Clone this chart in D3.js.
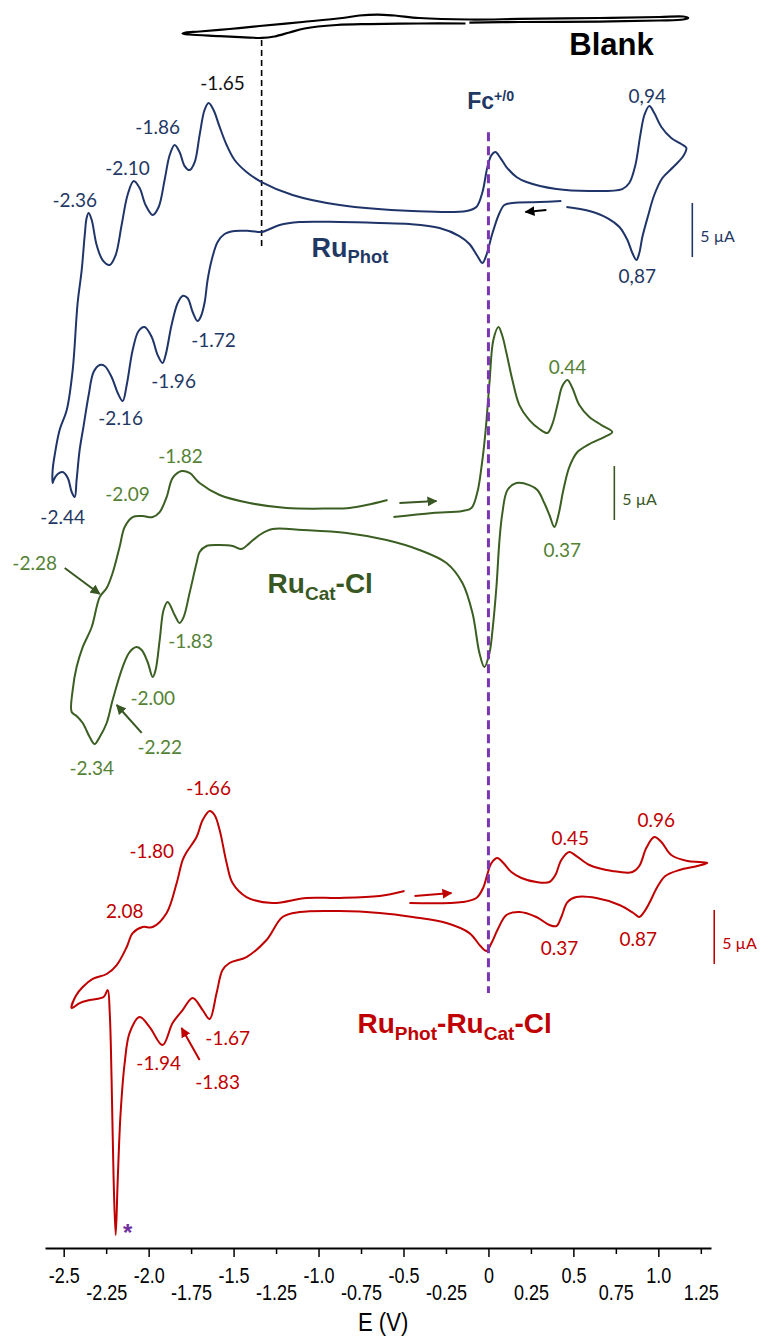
<!DOCTYPE html>
<html>
<head>
<meta charset="utf-8">
<script src="https://cdn.jsdelivr.net/npm/d3@7"></script>
<style>
  body { margin: 0; background: #fff; }
  svg { display: block; }
</style>
</head>
<body>
<svg width="761" height="1336"></svg>
<script>
// potential (V) vs current (uA), each trace drawn with its own vertical offset
const axisTicks = [-2.5, -2.25, -2.0, -1.75, -1.5, -1.25, -1.0, -0.75, -0.5, -0.25, 0, 0.25, 0.5, 0.75, 1.0, 1.25];

const blankOffset = 113.24;
const blankCV = [
  [-0.112, 0.23], [0.182, 0.28], [0.653, 0.32], [1.006, 0.42], [1.147, 0.51], [1.176, 0.65],
  [1.147, 0.79], [1.006, 0.74], [0.653, 0.65], [0.182, 0.56], [-0.112, 0.51], [-0.406, 0.65],
  [-0.553, 0.88], [-0.653, 0.97], [-0.759, 0.88], [-0.859, 0.65], [-1.094, 0.28], [-1.347, -0.09],
  [-1.524, -0.37], [-1.700, -0.60], [-1.782, -0.69], [-1.800, -0.79], [-1.759, -0.88], [-1.582, -1.02],
  [-1.406, -1.16], [-1.335, -1.20], [-1.259, -1.06], [-1.171, -0.69], [-1.082, -0.32], [-0.894, 0],
  [-0.700, 0.09], [-0.406, 0.14], [-0.135, 0.14]
];

const photOffset = 96.11;
const photCV = [
  [0.429, 0.83], [0.300, 0.74], [0.141, 0.65], [0.094, 0.46], [0.065, -0.28], [0.024, -2.13],
  [-0.012, -4.17], [-0.035, -4.91], [-0.065, -4.26], [-0.112, -3.15], [-0.171, -2.41], [-0.288, -1.67],
  [-0.465, -1.30], [-0.641, -1.20], [-0.876, -1.11], [-1.112, -1.11], [-1.229, -1.39], [-1.300, -1.85],
  [-1.335, -2.04], [-1.406, -1.94], [-1.494, -1.94], [-1.553, -2.22], [-1.594, -2.96], [-1.629, -4.63],
  [-1.653, -6.48], [-1.671, -8.61], [-1.694, -9.91], [-1.712, -10.28], [-1.741, -9.44], [-1.771, -8.15],
  [-1.800, -7.96], [-1.829, -8.61], [-1.865, -10.65], [-1.900, -13.43], [-1.918, -14.17], [-1.947, -13.43],
  [-1.982, -11.76], [-2.024, -10.83], [-2.059, -11.20], [-2.094, -12.96], [-2.129, -16.20], [-2.153, -17.69],
  [-2.182, -16.94], [-2.218, -15.46], [-2.259, -14.44], [-2.288, -14.35], [-2.324, -15.00], [-2.353, -17.13],
  [-2.382, -19.91], [-2.406, -22.22], [-2.424, -25.00], [-2.435, -26.57], [-2.453, -26.11], [-2.476, -24.81],
  [-2.506, -24.26], [-2.535, -24.44], [-2.559, -25.00], [-2.565, -25.28],
  [-2.565, -24.07], [-2.553, -22.69], [-2.524, -20.37], [-2.482, -18.52], [-2.447, -14.81], [-2.418, -8.61],
  [-2.394, -5.56], [-2.376, -2.31], [-2.365, -0.74], [-2.353, -0.28], [-2.335, -0.93], [-2.306, -3.24],
  [-2.271, -4.63], [-2.229, -5.09], [-2.194, -4.17], [-2.159, -1.39], [-2.124, 1.39], [-2.088, 2.69],
  [-2.053, 2.04], [-2.018, 0.46], [-1.976, -0.46], [-1.941, 0.28], [-1.906, 2.78], [-1.876, 5.09],
  [-1.847, 6.02], [-1.818, 5.37], [-1.788, 4.07], [-1.759, 3.70], [-1.729, 4.44], [-1.700, 6.94],
  [-1.671, 9.26], [-1.647, 9.91], [-1.618, 9.26], [-1.582, 7.69], [-1.541, 6.02], [-1.494, 4.63],
  [-1.424, 3.52], [-1.335, 2.59], [-1.153, 1.39], [-0.876, 0.46], [-0.447, -0.09], [-0.129, -0.09],
  [-0.071, 0.28], [-0.035, 1.67], [-0.006, 3.98], [0.018, 5.09], [0.041, 5.37], [0.071, 4.81],
  [0.106, 3.98], [0.165, 3.06], [0.224, 2.59], [0.400, 1.94], [0.594, 1.76], [0.788, 1.94],
  [0.829, 2.50], [0.865, 4.17], [0.894, 6.94], [0.918, 8.80], [0.947, 9.63], [0.976, 8.98],
  [1.018, 7.69], [1.076, 6.67], [1.135, 6.11], [1.165, 5.74], [1.147, 5.00], [1.088, 3.98],
  [1.024, 2.96], [0.976, 1.39], [0.941, -0.46], [0.906, -2.50], [0.888, -3.98], [0.871, -4.63],
  [0.847, -3.98], [0.818, -2.78], [0.771, -1.57], [0.700, -0.74], [0.594, -0.09], [0.459, 0.28]
];

const catOffset = 68.33;
const catCV = [
  [-0.559, -0.65], [-0.329, -0.28], [-0.153, -0.09], [-0.100, 0.19], [-0.065, 1.67], [-0.041, 3.98],
  [-0.018, 7.13], [0.006, 11.76], [0.029, 15.74], [0.059, 16.94], [0.082, 16.11], [0.106, 14.54],
  [0.141, 12.04], [0.182, 9.72], [0.241, 8.33], [0.300, 7.50], [0.347, 7.13], [0.376, 7.96],
  [0.406, 9.72], [0.435, 11.48], [0.465, 12.04], [0.494, 11.30], [0.535, 9.72], [0.594, 8.61],
  [0.665, 7.87], [0.729, 7.22], [0.682, 6.76], [0.594, 6.11], [0.524, 5.37], [0.476, 3.98],
  [0.441, 1.85], [0.412, -0.46], [0.388, -1.57], [0.359, -0.46], [0.329, 0.65], [0.288, 1.85],
  [0.241, 2.31], [0.165, 2.50], [0.112, 1.85], [0.082, -0.28], [0.065, -2.78], [0.047, -7.13],
  [0.024, -11.11], [0.006, -13.24], [-0.024, -14.54], [-0.053, -13.24], [-0.094, -9.54], [-0.153, -6.76],
  [-0.247, -4.91], [-0.406, -3.70], [-0.600, -2.78], [-0.835, -2.13], [-1.094, -1.85], [-1.271, -1.76],
  [-1.347, -2.31], [-1.406, -3.06], [-1.453, -3.61], [-1.506, -3.33], [-1.582, -3.24], [-1.659, -3.33],
  [-1.700, -3.89], [-1.718, -4.91], [-1.759, -7.69], [-1.794, -9.91], [-1.818, -10.46], [-1.847, -9.72],
  [-1.888, -8.52], [-1.912, -9.26], [-1.935, -12.04], [-1.959, -14.81], [-1.976, -15.46], [-2.006, -14.07],
  [-2.041, -12.96], [-2.071, -12.69], [-2.112, -13.15], [-2.153, -14.54], [-2.212, -17.59], [-2.247, -19.72],
  [-2.288, -21.02], [-2.318, -21.67], [-2.347, -21.02], [-2.388, -19.72], [-2.424, -19.07], [-2.453, -18.70],
  [-2.447, -16.67], [-2.424, -14.54], [-2.388, -12.69], [-2.335, -10.83], [-2.288, -8.06], [-2.247, -7.22],
  [-2.212, -5.83], [-2.171, -3.43], [-2.141, -1.57], [-2.094, -0.65], [-2.035, -0.56], [-1.976, -0.65],
  [-1.935, -0.19], [-1.894, 1.20], [-1.859, 2.96], [-1.806, 3.61], [-1.759, 3.43], [-1.700, 2.50],
  [-1.582, 1.39], [-1.406, 0.65], [-1.188, 0.19], [-0.935, 0.14], [-0.818, 0.19], [-0.718, 0.46],
  [-0.594, 0.93]
];

const dyadOffset = 32.22;
const dyadCV = [
  [-0.465, -0.28], [-0.153, -0.19], [-0.071, 0.19], [-0.029, 1.20], [-0.006, 2.41], [0.018, 3.43],
  [0.053, 3.89], [0.088, 3.43], [0.135, 2.59], [0.194, 2.04], [0.282, 1.67], [0.359, 1.67],
  [0.394, 2.31], [0.429, 3.70], [0.476, 4.44], [0.518, 4.07], [0.594, 3.24], [0.729, 2.69],
  [0.847, 2.59], [0.888, 3.15], [0.929, 4.81], [0.976, 5.83], [1.018, 5.37], [1.076, 4.17],
  [1.171, 3.61], [1.241, 3.52], [1.288, 3.43], [1.229, 3.15], [1.124, 2.78], [1.041, 2.22],
  [0.994, 1.20], [0.947, -0.28], [0.912, -1.20], [0.888, -1.57], [0.853, -1.20], [0.771, -0.46],
  [0.635, 0.19], [0.518, 0.28], [0.465, -0.19], [0.429, -1.57], [0.400, -2.41], [0.359, -2.31],
  [0.282, -1.57], [0.182, -1.11], [0.106, -1.39], [0.053, -2.78], [0.018, -3.98], [-0.012, -4.72],
  [-0.047, -4.26], [-0.112, -3.06], [-0.247, -2.13], [-0.447, -1.57], [-0.641, -1.20], [-0.876, -1.02],
  [-1.112, -1.11], [-1.212, -1.57], [-1.306, -3.70], [-1.424, -5.28], [-1.524, -5.83], [-1.565, -6.48],
  [-1.600, -8.61], [-1.641, -11.02], [-1.682, -10.19], [-1.741, -9.07], [-1.800, -10.19], [-1.859, -11.39],
  [-1.918, -13.43], [-1.994, -11.76], [-2.053, -10.83], [-2.112, -12.31], [-2.141, -15.09], [-2.165, -19.72],
  [-2.182, -25.93], [-2.194, -31.02], [-2.206, -25.93], [-2.218, -16.67], [-2.229, -10.46], [-2.241, -8.33],
  [-2.265, -8.98], [-2.347, -9.26], [-2.406, -9.54], [-2.453, -10.00], [-2.429, -8.89], [-2.388, -8.06],
  [-2.329, -7.31], [-2.247, -6.85], [-2.188, -6.02], [-2.129, -4.35], [-2.094, -3.06], [-2.035, -2.50],
  [-1.976, -2.50], [-1.894, -1.20], [-1.835, 1.57], [-1.800, 3.70], [-1.776, 4.44], [-1.718, 5.83],
  [-1.682, 7.41], [-1.641, 8.24], [-1.612, 7.87], [-1.582, 6.48], [-1.541, 3.43], [-1.506, 1.57],
  [-1.424, 0.28], [-1.271, -0.28], [-1.071, 0.19], [-0.876, 0.19], [-0.641, 0.37], [-0.494, 0.83]
];

// peak labels: [text, E, stacked current, colour]
const peakLabels = [
  ["-1.65", -1.565, 107.87, "#111"],
  ["-1.86", -1.947, 103.80, "#1f3864"],
  ["-2.10", -2.124, 100.0, "#1f3864"],
  ["-2.36", -2.435, 97.04, "#1f3864"],
  ["-1.72", -1.618, 84.07, "#1f3864"],
  ["-1.96", -1.853, 80.28, "#1f3864"],
  ["-2.16", -2.165, 76.85, "#1f3864"],
  ["-2.44", -2.506, 67.69, "#1f3864"],
  ["0,94", 0.935, 106.67, "#1f3864"],
  ["0,87", 0.876, 90.0, "#1f3864"],
  ["-1.82", -1.812, 73.33, "#548235"],
  ["-2.09", -2.124, 69.81, "#548235"],
  ["-2.28", -2.671, 63.43, "#548235"],
  ["-1.83", -1.753, 56.20, "#548235"],
  ["-2.00", -1.976, 50.93, "#548235"],
  ["-2.22", -1.935, 46.39, "#548235"],
  ["-2.34", -2.335, 44.44, "#548235"],
  ["0.44", 0.465, 81.57, "#548235"],
  ["0.37", 0.435, 64.63, "#548235"],
  ["-1.66", -1.647, 42.59, "#c00000"],
  ["-1.80", -1.982, 36.76, "#c00000"],
  ["2.08", -2.141, 31.20, "#c00000"],
  ["-1.94", -1.941, 17.13, "#c00000"],
  ["-1.67", -1.535, 19.44, "#c00000"],
  ["-1.83", -1.594, 15.37, "#c00000"],
  ["0.45", 0.482, 37.96, "#c00000"],
  ["0.96", 0.988, 39.63, "#c00000"],
  ["0.37", 0.418, 27.78, "#c00000"],
  ["0.87", 0.882, 28.61, "#c00000"]
];

// scale bars (5 uA each): [E, top, bottom, colour]
const scaleBars = [
  [1.200, 96.76, 91.76, "#1f3864"],
  [0.741, 72.41, 67.41, "#385723"],
  [1.329, 31.30, 26.30, "#c00000"]
];

// arrows: [E1, I1, E2, I2, colour]
const arrows = [
  [0.341, 96.11, 0.218, 95.93, "#000"],
  [-0.524, 68.98, -0.306, 69.17, "#385723"],
  [-2.494, 62.96, -2.288, 60.56, "#385723"],
  [-2.041, 47.69, -2.188, 50.28, "#385723"],
  [-0.435, 32.59, -0.218, 32.87, "#c00000"],
  [-1.700, 17.41, -1.806, 20.37, "#c00000"]
];

const svg = d3.select("svg");
const x = d3.scaleLinear().domain([-2.61, 1.31]).range([45, 711]);
const y = d3.scaleLinear().domain([0, 115.556]).range([1248, 0]);

const defs = svg.append("defs");
function arrowMarker(id, color) {
  defs.append("marker")
    .attr("id", id)
    .attr("viewBox", "0 0 10 10")
    .attr("refX", 9).attr("refY", 5)
    .attr("markerWidth", 5).attr("markerHeight", 5)
    .attr("markerUnits", "strokeWidth")
    .attr("orient", "auto")
    .append("path")
    .attr("d", "M0,0 L10,5 L0,10 z")
    .attr("fill", color);
}

// blank reference line
svg.append("line")
  .attr("x1", x(-1.335)).attr("x2", x(-1.335))
  .attr("y1", y(111.85)).attr("y2", y(92.59))
  .attr("stroke", "#000").attr("stroke-width", 1.6)
  .attr("stroke-dasharray", "6,4");

const line = offset => d3.line()
  .x(d => x(d[0]))
  .y(d => y(d[1] + offset))
  .curve(d3.curveCatmullRom.alpha(0.5));

const traces = [
  { data: blankCV, offset: blankOffset, color: "#000", w: 2.2 },
  { data: photCV, offset: photOffset, color: "#1f3468", w: 2 },
  { data: catCV, offset: catOffset, color: "#3b5e22", w: 2 },
  { data: dyadCV, offset: dyadOffset, color: "#c00000", w: 2 }
];

traces.forEach(t => {
  svg.append("path")
    .datum(t.data)
    .attr("fill", "none")
    .attr("stroke", t.color)
    .attr("stroke-width", t.w)
    .attr("stroke-linejoin", "round")
    .attr("d", line(t.offset));
});

// Fc+/0 reference
svg.append("line")
  .attr("x1", x(0)).attr("x2", x(0))
  .attr("y1", y(103.3)).attr("y2", y(23.6))
  .attr("stroke", "#7a35b0").attr("stroke-width", 3)
  .attr("stroke-dasharray", "9,5");

// peak potentials
svg.append("g")
  .selectAll("text")
  .data(peakLabels)
  .enter().append("text")
  .attr("x", d => x(d[1]))
  .attr("y", d => y(d[2]))
  .attr("dy", "0.35em")
  .attr("text-anchor", "middle")
  .attr("fill", d => d[3])
  .style("font-family", "Lato, 'Open Sans', sans-serif")
  .style("font-size", "19px")
  .text(d => d[0]);

// scale bars
scaleBars.forEach(b => {
  svg.append("line")
    .attr("x1", x(b[0])).attr("x2", x(b[0]))
    .attr("y1", y(b[1])).attr("y2", y(b[2]))
    .attr("stroke", b[3]).attr("stroke-width", 1.6);
  svg.append("text")
    .attr("x", x(b[0]) + 8)
    .attr("y", y((b[1] + b[2]) / 2) + 6)
    .attr("dy", "0.35em")
    .attr("fill", b[3])
    .style("font-family", "Lato, 'Open Sans', sans-serif")
    .style("font-size", "16px")
    .text("5 µA");
});

// arrows
arrows.forEach((a, i) => {
  arrowMarker("arr" + i, a[4]);
  svg.append("line")
    .attr("x1", x(a[0])).attr("y1", y(a[1]))
    .attr("x2", x(a[2])).attr("y2", y(a[3]))
    .attr("stroke", a[4]).attr("stroke-width", 2)
    .attr("marker-end", `url(#arr${i})`);
});

// compound names
const boldFont = "'Liberation Sans', Arial, sans-serif";
function nameLabel(parts, E, I, color, size) {
  const t = svg.append("text")
    .attr("x", x(E)).attr("y", y(I) + size * 0.36)
    .attr("fill", color)
    .style("font-family", boldFont)
    .style("font-weight", "bold")
    .style("font-size", size + "px");
  let shift = 0;
  parts.forEach(p => {
    const s = t.append("tspan").text(p[0]);
    let target = 0;
    if (p[1] === "sub") {
      target = size * 0.25;
      s.style("font-size", (size * 0.68) + "px");
    } else if (p[1] === "sup") {
      target = -size * 0.38;
      s.style("font-size", (size * 0.62) + "px");
    }
    if (target !== shift) s.attr("dy", target - shift);
    shift = target;
  });
}

nameLabel([["Blank", "n"]], 0.476, 111.48, "#000", 31);
nameLabel([["Fc", "n"], ["+/0", "sup"]], -0.125, 106.2, "#1f3864", 23);
nameLabel([["Ru", "n"], ["Phot", "sub"]], -1.041, 92.69, "#1f3864", 27);
nameLabel([["Ru", "n"], ["Cat", "sub"], ["-Cl", "n"]], -1.30, 61.57, "#385723", 28);
nameLabel([["Ru", "n"], ["Phot", "sub"], ["-Ru", "n"], ["Cat", "sub"], ["-Cl", "n"]], -0.771, 20.83, "#c00000", 28);

// asterisk
svg.append("text")
  .attr("x", x(-2.124)).attr("y", y(1.85))
  .attr("dy", "0.55em")
  .attr("text-anchor", "middle")
  .attr("fill", "#7030a0")
  .style("font-family", "'Liberation Sans', sans-serif")
  .style("font-weight", "bold")
  .style("font-size", "24px")
  .text("*");

// x axis
const fmt = d => d === 0 ? "0" : (Math.abs(d * 2 - Math.round(d * 2)) < 1e-9 ? d.toFixed(1) : d.toFixed(2));
const xAxis = svg.append("g")
  .attr("transform", `translate(0,${y(0)})`)
  .call(d3.axisBottom(x).tickValues(axisTicks).tickFormat(fmt).tickSizeOuter(0));

xAxis.select(".domain").attr("stroke-width", 1.8);
xAxis.selectAll(".tick line")
  .attr("stroke-width", 1.5)
  .attr("y2", (d, i) => i % 2 === 0 ? 9 : 6);
xAxis.selectAll(".tick text")
  .attr("y", (d, i) => i % 2 === 0 ? 19 : 36)
  .attr("transform", "scale(0.8,1)")
  .attr("fill", "#000")
  .style("font-family", "'Liberation Sans', Arial, sans-serif")
  .style("font-size", "22.5px");

svg.append("text")
  .attr("transform", `translate(${x(-0.62)},${y(0) + 83}) scale(0.85,1)`)
  .attr("text-anchor", "middle")
  .style("font-family", "'Liberation Sans', Arial, sans-serif")
  .style("font-size", "26px")
  .text("E (V)");
</script>
</body>
</html>
